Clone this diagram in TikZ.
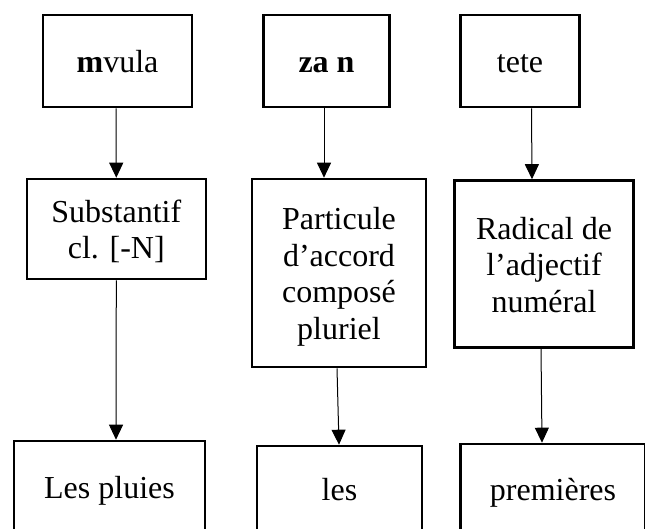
\documentclass[tikz,border=0pt]{standalone}
\usepackage{fontspec}
\setmainfont{Liberation Serif}
\usetikzlibrary{arrows.meta}
\newcommand\hstr[1]{\rule{0pt}{#1}}
\newcommand\dstr[1]{\rule[-#1]{0pt}{#1}}
\tikzset{
  box/.style={draw=black, line width=2.6pt, inner sep=0pt, align=center,
    font=\fontsize{32}{36.5}\selectfont},
  arr/.style={draw=black, line width=1pt, -{Triangle[length=15pt,width=14pt]}}
}
\begin{document}
\begin{tikzpicture}[x=1pt,y=-1pt]
\useasboundingbox (0,0) rectangle (645,529);
\clip (0,0) rectangle (645,529);
\fill[white] (0,0) rectangle (645,529);
% top row
\node[box, minimum width=149pt, minimum height=92pt] (t1) at (117.5,61) {\hstr{32.4pt}\textbf{m}vula\dstr{9pt}};
\node[box, minimum width=126pt, minimum height=92pt] (t2) at (326.5,61) {\hstr{32.4pt}\textbf{za n}\dstr{9pt}};
\node[box, minimum width=119pt, minimum height=92pt] (t3) at (520,61) {\hstr{32.4pt}tete\dstr{9pt}};
% middle row
\node[box, minimum width=179pt, minimum height=100pt] (m1) at (116.3,229) {\hstr{32.4pt}Substantif\\cl. [-N]\dstr{9pt}};
\node[box, minimum width=174pt, minimum height=188pt] (m2) at (339,273) {\hstr{32.4pt}Particule\\d’accord\\composé\\pluriel\dstr{9pt}};
\node[box, minimum width=179pt, minimum height=167pt] (m3) at (544,264) {\hstr{32.4pt}Radical de\\l’adjectif\\numéral\dstr{9pt}};
% bottom row (cut off by the lower edge)
\node[box, minimum width=191pt, minimum height=104pt] (b1) at (109.5,493) {\hstr{24pt}Les pluies\dstr{14pt}};
\node[box, minimum width=165pt, minimum height=99pt] (b2) at (339.5,495.5) {\hstr{24pt}les\dstr{15pt}};
\node[box, minimum width=185pt, minimum height=101pt] (b3) at (553,494.5) {\hstr{24pt}premières\dstr{13pt}};
% connectors
\draw[arr] ([xshift=-1.5pt]t1.south) -- (m1.north);
\draw[arr] ([xshift=-2.5pt]t2.south) -- ([xshift=-15pt]m2.north);
\draw[arr] ([xshift=11.5pt]t3.south) -- ([xshift=-12pt]m3.north);
\draw[arr] (m1.south) -- ([xshift=6.5pt]b1.north);
\draw[arr] ([xshift=-2pt]m2.south) -- ([xshift=-0.5pt]b2.north);
\draw[arr] ([xshift=-3pt]m3.south) -- ([xshift=-11pt]b3.north);
\end{tikzpicture}
\end{document}
